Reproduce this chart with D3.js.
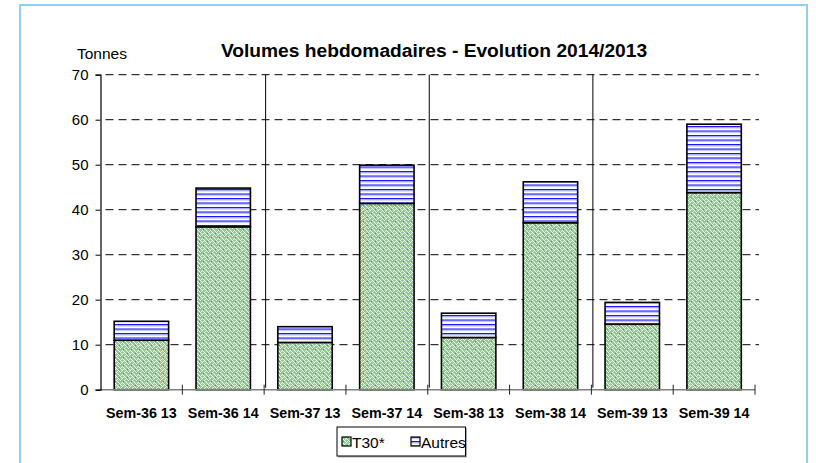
<!DOCTYPE html>
<html>
<head>
<meta charset="utf-8">
<script src="https://cdn.jsdelivr.net/npm/d3@7"></script>
<style>
  html, body { margin: 0; padding: 0; background: #fff; }
  svg { display: block; }
  text { font-family: "Liberation Sans", Arial, sans-serif; }
</style>
</head>
<body>
<svg id="chart" width="816" height="463"></svg>
<script>
// ---- data ----
const categories = ["Sem-36 13", "Sem-36 14", "Sem-37 13", "Sem-37 14", "Sem-38 13", "Sem-38 14", "Sem-39 13", "Sem-39 14"];
const t30Values = [11.0, 36.2, 10.5, 41.4, 11.6, 37.1, 14.6, 43.8];
const autresValues = [4.2, 8.6, 3.5, 8.5, 5.4, 9.1, 4.8, 15.2];
const seriesNames = ["T30*", "Autres"];
const yTicks = [0, 10, 20, 30, 40, 50, 60, 70];
const titleText = "Volumes hebdomadaires - Evolution 2014/2013";
const yAxisLabel = "Tonnes";

(function () {
const svg = d3.select("#chart");
const defs = svg.append("defs");

// pattern: green weave (8x8 bitmap)
const weave = ["10001000", "01010100", "00100010", "01000101", "10001000", "00010100", "00100010", "01010001"];
const pg = defs.append("pattern").attr("id", "pGreen").attr("patternUnits", "userSpaceOnUse")
  .attr("width", 8).attr("height", 8);
pg.append("rect").attr("width", 8).attr("height", 8).attr("fill", "#ffffff");
const bits = [];
weave.forEach((row, r) => row.split("").forEach((b, c) => { if (b === "0") bits.push([c, r]); }));
pg.selectAll("rect.b").data(bits).join("rect").attr("class", "b")
  .attr("x", d => d[0]).attr("y", d => d[1]).attr("width", 1).attr("height", 1)
  .attr("fill", "#8ad08a");
pg.append("rect").attr("x", 3).attr("y", 5).attr("width", 1).attr("height", 1).attr("fill", "#3fa33f");
pg.append("rect").attr("x", 7).attr("y", 1).attr("width", 1).attr("height", 1).attr("fill", "#3fa33f");
// pattern: blue horizontal lines
const pb = defs.append("pattern").attr("id", "pBlue").attr("patternUnits", "userSpaceOnUse")
  .attr("width", 8).attr("height", 4.5);
pb.append("rect").attr("width", 8).attr("height", 4.5).attr("fill", "#ffffff");
pb.append("rect").attr("y", 0).attr("width", 8).attr("height", 1.1).attr("fill", "#1010ff");
pb.append("rect").attr("y", 1.1).attr("width", 8).attr("height", 1.1).attr("fill", "#9a9aff");
const fills = ["url(#pGreen)", "url(#pBlue)"];

// frame
svg.append("rect").attr("x", 20).attr("y", 5).attr("width", 787).attr("height", 470)
  .attr("fill", "none").attr("stroke", "#8dd0ef").attr("stroke-width", 2);

const pL = 100.5, pR = 755, pT = 74.7, pB = 389.7;
const x = d3.scaleBand().domain(categories).range([pL, pR]).paddingInner(0.335).paddingOuter(0.335 / 2);
const y = d3.scaleLinear().domain([0, 70]).range([pB, pT]);

// gridlines
svg.append("g").selectAll("line").data(yTicks.filter(d => d > 0)).join("line")
  .attr("x1", pL + 5).attr("x2", pR + 4)
  .attr("y1", d => y(d)).attr("y2", d => y(d))
  .attr("stroke", "#000").attr("stroke-width", 1).attr("stroke-dasharray", "8,5");

// dividers between weeks
const step = x.step();
const dividers = [2, 4, 6].map(i => pL + i * step + 1.5);
svg.append("g").selectAll("line").data(dividers).join("line")
  .attr("x1", d => d).attr("x2", d => d).attr("y1", pT).attr("y2", pB - 2)
  .attr("stroke", "#000").attr("stroke-width", 1);

// stacked bars
const stackData = categories.map((c, i) => ({ cat: c, T30: t30Values[i], Autres: autresValues[i] }));
const stacked = d3.stack().keys(["T30", "Autres"])(stackData);
svg.append("g").selectAll("g").data(stacked).join("g")
  .attr("fill", (d, i) => fills[i])
  .selectAll("rect").data(d => d).join("rect")
  .attr("x", d => x(d.data.cat))
  .attr("width", x.bandwidth())
  .attr("y", d => y(d[1]))
  .attr("height", d => y(d[0]) - y(d[1]))
  .attr("stroke", "#000").attr("stroke-width", 1.6);

// x axis
svg.append("line").attr("x1", pL).attr("x2", pR).attr("y1", pB).attr("y2", pB)
  .attr("stroke", "#808080").attr("stroke-width", 1.5);
const xb = d3.range(categories.length + 1).map(i => pL + i * step);
svg.append("g").selectAll("line").data(xb.slice(1)).join("line")
  .attr("x1", d => d).attr("x2", d => d).attr("y1", pB - 5).attr("y2", pB + 5)
  .attr("stroke", "#222").attr("stroke-width", 1);
svg.append("g").selectAll("text").data(categories).join("text")
  .attr("x", d => x(d) + x.bandwidth() / 2).attr("y", 417.5)
  .attr("text-anchor", "middle").attr("font-size", 14.3).attr("font-weight", "bold").attr("fill", "#000")
  .text(d => d);

// y axis
const yAxis = d3.axisLeft(y).tickValues(yTicks).tickSize(5).tickPadding(7);
const ya = svg.append("g").attr("transform", `translate(${pL},0)`).call(yAxis);
ya.select(".domain").attr("stroke", "#000").attr("stroke-width", 1.2);
ya.selectAll(".tick line").attr("stroke", "#000");
ya.selectAll(".tick text").attr("font-size", 15).attr("font-family", "Liberation Sans, Arial, sans-serif").attr("fill", "#000");

// labels
svg.append("text").attr("x", 77).attr("y", 59).attr("font-size", 15.5).attr("fill", "#000").text(yAxisLabel);
svg.append("text").attr("x", 434).attr("y", 56.5).attr("text-anchor", "middle")
  .attr("font-size", 19.2).attr("font-weight", "bold").attr("fill", "#000").text(titleText);

// legend
const lg = svg.append("g");
lg.append("rect").attr("x", 338).attr("y", 428).attr("width", 129).attr("height", 29.5)
  .attr("fill", "#aaa").attr("stroke", "none");
lg.append("rect").attr("x", 337).attr("y", 427).attr("width", 128.5).attr("height", 29)
  .attr("fill", "#fff").attr("stroke", "#000").attr("stroke-width", 1);
const legX = [342, 411];
seriesNames.forEach((n, i) => {
  lg.append("rect").attr("x", legX[i]).attr("y", 437).attr("width", 9).attr("height", 9)
    .attr("fill", fills[i]).attr("stroke", "#000").attr("stroke-width", 1.2);
  lg.append("text").attr("x", legX[i] + 10).attr("y", 447.5).attr("font-size", 15.5).attr("fill", "#000").text(n);
});
})();
</script>
</body>
</html>
